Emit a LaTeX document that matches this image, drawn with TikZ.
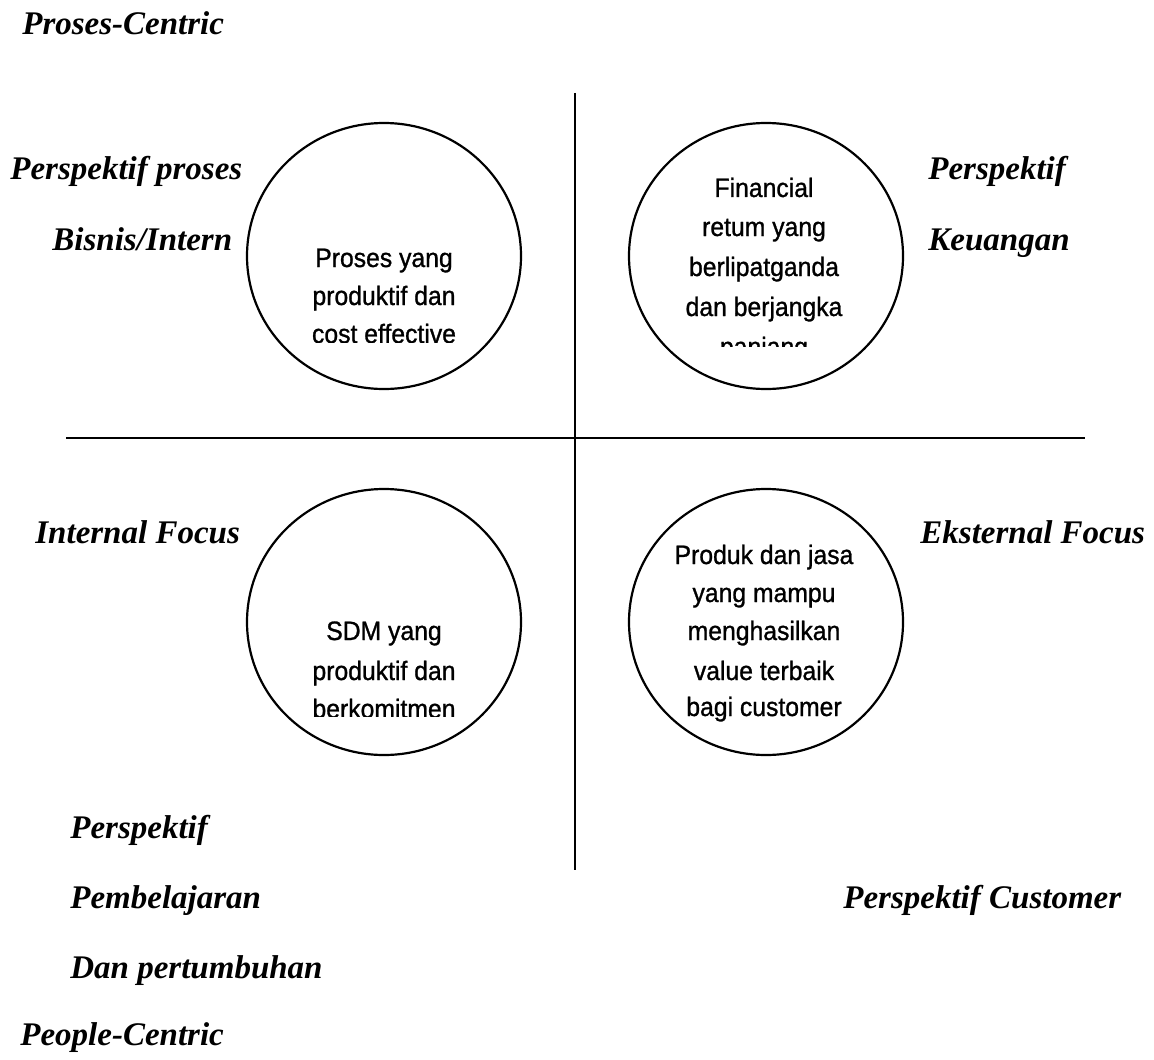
\documentclass[tikz,border=0pt]{standalone}
\usepackage{fontspec}
\usetikzlibrary{shapes.geometric}
\setmainfont{Liberation Serif}
\newfontfamily\circfont[FakeStretch=0.93,FakeBold=1]{Liberation Sans}
\begin{document}
\begin{tikzpicture}[x=0.5pt,y=-0.5pt,
  lbl/.style={anchor=base west, inner sep=0pt, font=\fontsize{16.5}{20}\selectfont\bfseries\itshape},
  ring/.style={draw, ellipse, line width=1.1pt, inner sep=0pt, minimum width=137pt, minimum height=133pt},
  cline/.style={anchor=base, inner sep=0pt, font=\circfont\fontsize{13.3}{16}\selectfont},
  axis/.style={line width=1.1pt}]
\useasboundingbox (0,0) rectangle (1154,1059);
\fill[white] (0,0) rectangle (1154,1059);

% axes
\coordinate (vtop) at (575,93);
\coordinate (vbot) at (575,870);
\coordinate (hl) at (66,438);
\coordinate (hr) at (1085,438);
\draw[axis] (vtop) -- (vbot);
\draw[axis] (hl) -- (hr);

% circles
\node[ring] (c1) at (384,256) {};
\node[ring] (c2) at (766,256) {};
\node[ring] (c3) at (384,622) {};
\node[ring] (c4) at (766,622) {};

% circle texts (bottom lines cut off as in the original text boxes)
\begin{scope}
\clip (260,150) rectangle (510,342);
\node[cline] (t1a) at (384,267) {Proses yang};
\node[cline] (t1b) at (384,305) {produktif dan};
\node[cline] (t1c) at (384,343) {cost effective};
\end{scope}
\begin{scope}
\clip (640,150) rectangle (890,346);
\node[cline] (t2a) at (764,197) {Financial};
\node[cline] (t2b) at (764,236) {retum yang};
\node[cline] (t2c) at (764,276) {berlipatganda};
\node[cline] (t2d) at (764,316) {dan berjangka};
\node[cline] (t2e) at (764,356) {panjang};
\end{scope}
\begin{scope}
\clip (260,520) rectangle (510,716);
\node[cline] (t3a) at (384,640) {SDM yang};
\node[cline] (t3b) at (384,680) {produktif dan};
\node[cline] (t3c) at (384,718) {berkomitmen};
\end{scope}
\begin{scope}
\clip (640,520) rectangle (890,721);
\node[cline] (t4a) at (764,564) {Produk dan jasa};
\node[cline] (t4b) at (764,602) {yang mampu};
\node[cline] (t4c) at (764,640) {menghasilkan};
\node[cline] (t4d) at (764,680) {value terbaik};
\node[cline] (t4e) at (764,716) {bagi customer};
\end{scope}

% labels
\node[lbl] (pc) at (22,35) {Proses-Centric};
\node[lbl] (pp1) at (10,179) {Perspektif proses};
\node[lbl] (pp2) at (52,250) {Bisnis/Intern};
\node[lbl] (pk1) at (928,179) {Perspektif};
\node[lbl] (pk2) at (928,250) {Keuangan};
\node[lbl] (inf) at (35,543) {Internal Focus};
\node[lbl] (exf) at (920,543) {Eksternal Focus};
\node[lbl] (pb1) at (70,838) {Perspektif};
\node[lbl] (pb2) at (70,908) {Pembelajaran};
\node[lbl] (pb3) at (70,978) {Dan pertumbuhan};
\node[lbl] (pcu) at (843,908) {Perspektif Customer};
\node[lbl] (plc) at (20,1045) {People-Centric};
\end{tikzpicture}
\end{document}
